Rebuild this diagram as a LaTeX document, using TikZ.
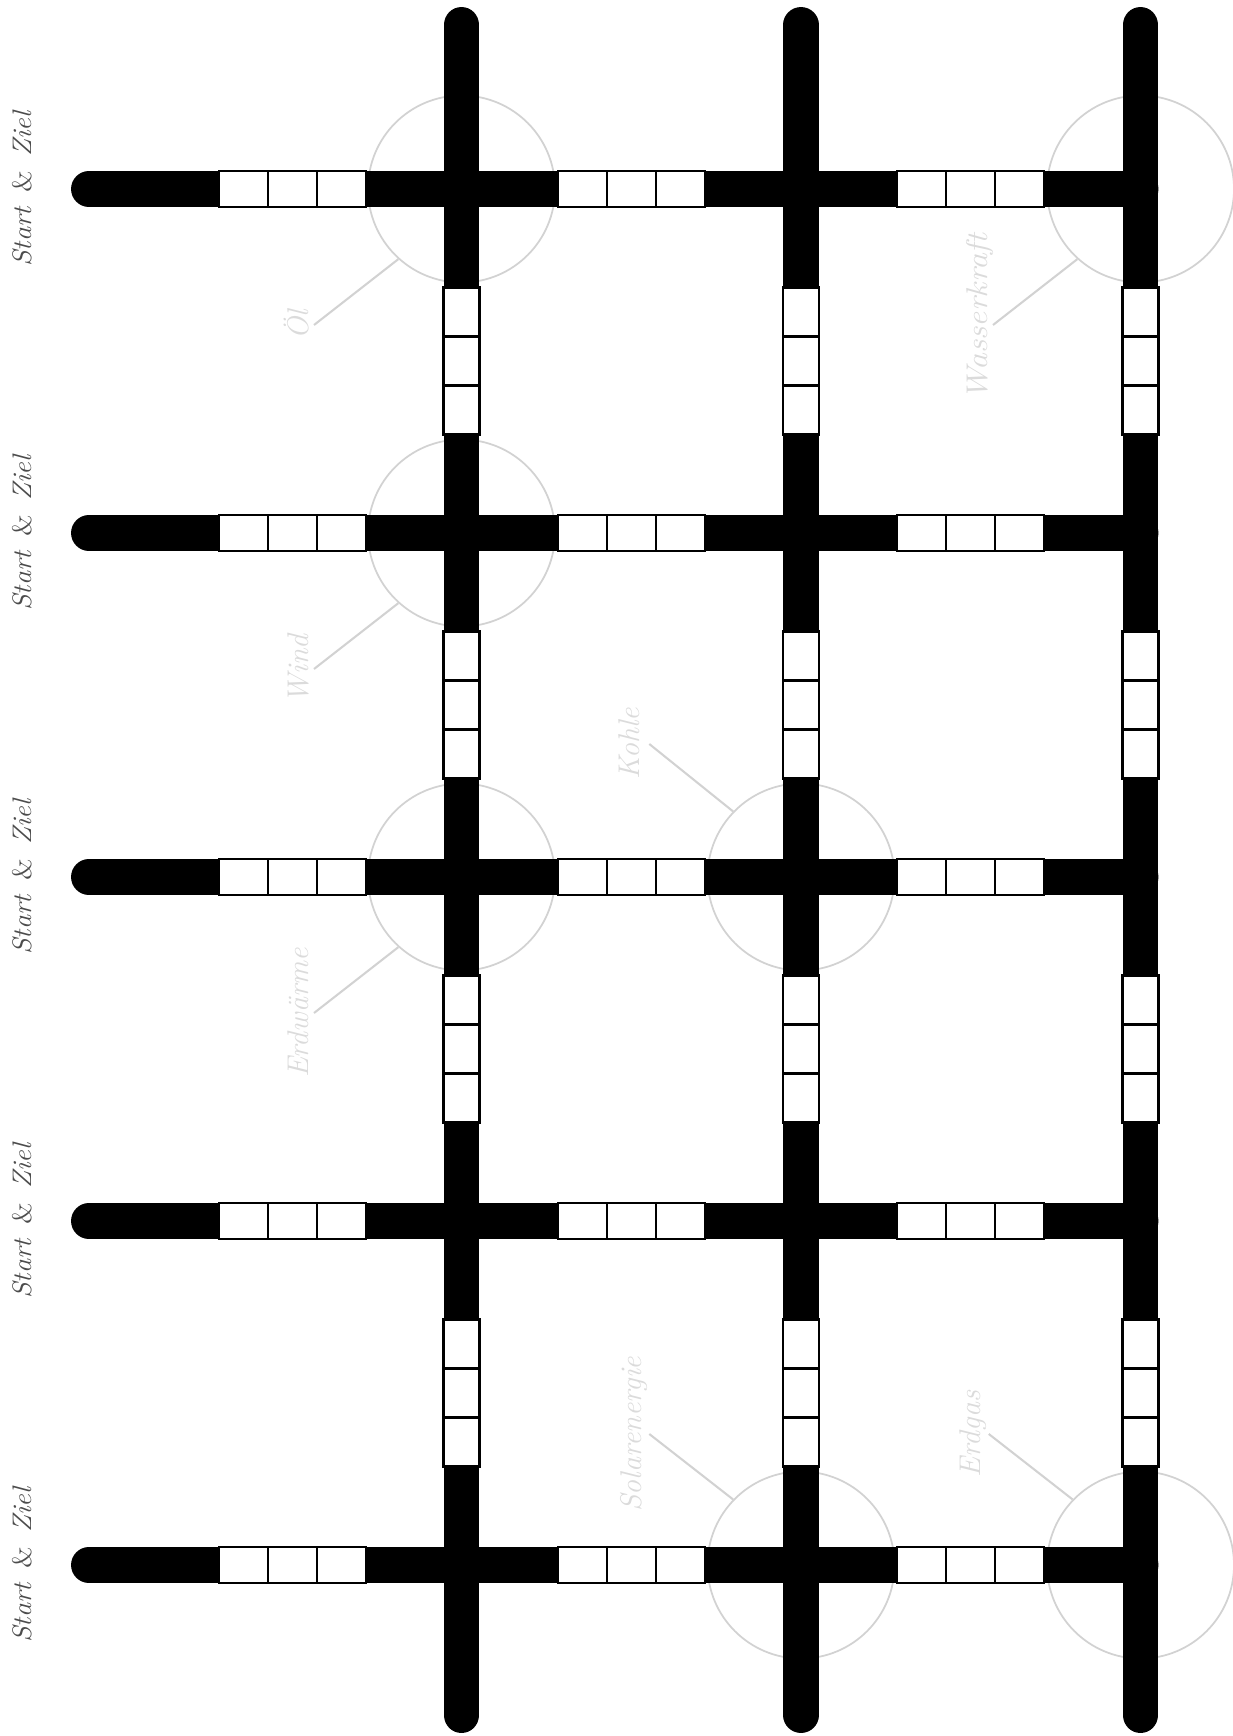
\documentclass[tikz,border=0pt]{standalone}
\usepackage{graphicx}
\usepackage{tikz}
\usetikzlibrary{calc}

\tikzset{
  bahn/.style={line width=17.4pt, line cap=round},
  feld/.style={draw=black, line width=1pt, fill=white},
  ring/.style={circle, draw=gray!35, line width=0.85pt, minimum size=3.185cm, inner sep=0pt},
  zeiger/.style={draw=gray!35, line width=1pt},
  quelle/.style={rotate=90, anchor=base, inner sep=0pt, text=gray!28, font=\itshape\fontsize{14.5}{16}\selectfont},
  startziel/.style={rotate=90, inner sep=0pt, text=black!70, font=\itshape\fontsize{13}{15}\selectfont}
}

\begin{document}
\begin{tikzpicture}[x=0.017032cm, y=-0.017032cm]
    \useasboundingbox (0,0) rectangle (1233,1736);

    % rings behind the track
    \node[ring] (oelRing) at (461.5,189) {};
    \node[ring] (wasserRing) at (1140.5,189) {};
    \node[ring] (windRing) at (461.5,533) {};
    \node[ring] (erdwRing) at (461.5,877) {};
    \node[ring] (kohleRing) at (801,877) {};
    \node[ring] (solarRing) at (801,1565) {};
    \node[ring] (gasRing) at (1140.5,1565) {};

    % track
    \foreach \sx in {461.5,801,1140.5}
        \draw[bahn] (\sx,25) -- (\sx,1715);
    \foreach \sy in {189,533,877,1221,1565} {
        \draw[bahn] (89,\sy) -- (1140.5,\sy);
        \node[startziel] (start\sy) at (22,\sy) {\scalebox{1.06}[1]{Start\enspace\textup{\&}\enspace Ziel}};
    }

    % fields
    \foreach \sy in {189,533,877,1221,1565}
        \foreach \fx in {219,268,317,558,607,656,897,946,995}
            \draw[feld] (\fx,\sy-18) rectangle ++(49,36);
    \foreach \sx in {461.5,801,1140.5}
        \foreach \fy in {287.5,336.5,385.5,631.5,680.5,729.5,975.5,1024.5,1073.5,1319.5,1368.5,1417.5}
            \draw[feld] (\sx-18,\fy) rectangle ++(36,49);

    % energy labels
    \coordinate (oelEnd) at ($(oelRing.center)+(-147.5,136)$);
    \coordinate (wasserEnd) at ($(wasserRing.center)+(-147.5,136)$);
    \coordinate (windEnd) at ($(windRing.center)+(-147.5,136)$);
    \coordinate (erdwEnd) at ($(erdwRing.center)+(-147.5,136)$);
    \coordinate (kohleEnd) at ($(kohleRing.center)+(-151.7,-133)$);
    \coordinate (solarEnd) at ($(solarRing.center)+(-151.7,-131)$);
    \coordinate (gasEnd) at ($(gasRing.center)+(-151.7,-131)$);

    \draw[zeiger] (oelRing.228) -- (oelEnd);
    \draw[zeiger] (wasserRing.228) -- (wasserEnd);
    \draw[zeiger] (windRing.228) -- (windEnd);
    \draw[zeiger] (erdwRing.228) -- (erdwEnd);
    \draw[zeiger] (kohleRing.136) -- (kohleEnd);
    \draw[zeiger] (solarRing.136) -- (solarEnd);
    \draw[zeiger] (gasRing.136) -- (gasEnd);

    \node[quelle] (oel) at ($(oelEnd)+(-6,0)$) {Öl};
    \node[quelle] (wasser) at ($(wasserEnd)+(-6,-8)$) {\scalebox{1.12}[1]{Wasserkraft}};
    \node[quelle] (wind) at ($(windEnd)+(-6,0)$) {Wind};
    \node[quelle] (erdw) at ($(erdwEnd)+(-6,0)$) {Erdwärme};
    \node[quelle] (kohle) at ($(kohleEnd)+(-10,0)$) {Kohle};
    \node[quelle] (solar) at ($(solarEnd)+(-8,0)$) {Solarenergie};
    \node[quelle] (gas) at ($(gasEnd)+(-8,0)$) {Erdgas};

\end{tikzpicture}
\end{document}
